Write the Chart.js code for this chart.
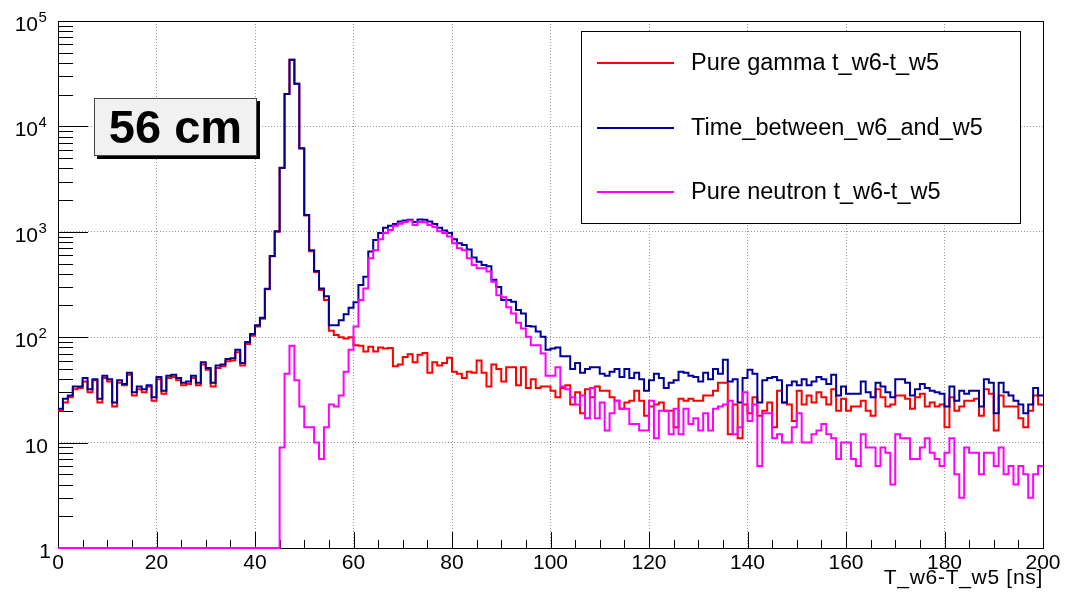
<!DOCTYPE html>
<html>
<head>
<meta charset="utf-8">
<title>T_w6-T_w5 at 56 cm</title>
<script src="https://cdn.jsdelivr.net/npm/chart.js@4.4.1/dist/chart.umd.min.js"></script>
<style>
  html, body { margin: 0; padding: 0; background: #fff; }
  #wrap { width: 1066px; height: 596px; }
</style>
</head>
<body>
<div id="wrap"><canvas id="chart" width="1066" height="596"></canvas></div>
<script>
(function () {
  'use strict';

  // --- data: 200 bins of 1 ns, counts per bin ---
  var X_MIN = 0;
  var X_MAX = 200;
  var yTicks = [1, 10, 100, 1000, 10000, 100000];
  var yTickBase = ['1', '10', '10', '10', '10', '10'];
  var yTickExp = ['', '', '2', '3', '4', '5'];

  var gamma = [
    20, 24, 27, 32, 33, 38, 30, 39, 24, 41, 38, 22, 37, 35, 44, 28, 32, 30, 34, 25,
    40, 29, 41, 42, 39, 35, 36, 41, 35, 55, 49, 34, 51, 53, 59, 60, 72, 54, 86, 103,
    126, 150, 285, 585, 1000, 4040, 20250, 42800, 25350, 6180, 1425, 655, 415, 280, 225, 115, 105, 100, 97, 100,
    84, 83, 73, 81, 73, 80, 78, 79, 53, 55, 65, 69, 58, 68, 71, 46, 58, 54, 57, 64,
    47, 45, 41, 47, 46, 60, 46, 34, 55, 50, 38, 52, 52, 35, 52, 33, 40, 33, 34, 34,
    31, 27, 33, 35, 23, 30, 19, 32, 27, 34, 31, 31, 27, 25, 21, 24, 25, 31, 25, 18,
    22, 23, 24, 20, 20, 14, 26, 25, 26, 25, 25, 28, 28, 31, 37, 37, 12, 23, 11, 23,
    19, 27, 18, 20, 24, 14, 31, 24, 23, 16, 31, 23, 28, 24, 30, 27, 23, 32, 20, 26,
    20, 22, 22, 25, 20, 18, 32, 27, 22, 23, 28, 28, 26, 21, 27, 29, 22, 24, 22, 23,
    14, 27, 20, 22, 25, 25, 26, 18, 32, 29, 13, 28, 22, 22, 22, 17, 14, 20, 28, 23
  ];

  var total = [
    21, 26, 28, 34, 34, 41, 32, 40, 26, 43, 40, 24, 39, 36, 46, 30, 34, 32, 35, 27,
    42, 31, 43, 44, 41, 37, 38, 43, 37, 58, 51, 37, 54, 55, 62, 63, 76, 57, 90, 107,
    130, 153, 288, 590, 1010, 4050, 20300, 42900, 25400, 6200, 1440, 670, 425, 290, 245, 130, 130, 145, 165, 190,
    215, 312, 375, 650, 835, 975, 1090, 1140, 1185, 1250, 1280, 1300, 1240, 1310, 1300, 1250, 1185, 1090, 1030, 975,
    850, 780, 750, 680, 570, 520, 485, 470, 350, 300, 225, 225, 217, 181, 168, 128, 126, 113, 101, 76,
    78, 80, 66, 66, 50, 57, 46, 50, 52, 52, 45, 43, 47, 50, 42, 50, 41, 46, 40, 31,
    39, 45, 41, 33, 37, 39, 47, 46, 43, 42, 38, 46, 40, 50, 45, 61, 38, 40, 24, 41,
    49, 45, 24, 39, 41, 42, 39, 24, 35, 38, 35, 40, 35, 38, 42, 40, 36, 44, 28, 34,
    29, 29, 29, 38, 30, 27, 37, 34, 30, 27, 40, 40, 37, 28, 32, 36, 33, 31, 30, 29,
    22, 34, 25, 31, 29, 31, 31, 22, 40, 37, 19, 37, 30, 28, 25, 23, 19, 23, 33, 28
  ];

  var neutron = [
    1, 1, 1, 1, 1, 1, 1, 1, 1, 1, 1, 1, 1, 1, 1, 1, 1, 1, 1, 1,
    1, 1, 1, 1, 1, 1, 1, 1, 1, 1, 1, 1, 1, 1, 1, 1, 1, 1, 1, 1,
    1, 1, 1, 1, 1, 9, 45, 83, 39, 22, 14, 14, 10, 7, 14, 23, 22, 28, 47, 76,
    126, 225, 290, 560, 670, 850, 975, 1040, 1140, 1190, 1240, 1280, 1160, 1240, 1230, 1160, 1110, 1010, 975, 900,
    780, 700, 670, 560, 485, 450, 450, 420, 335, 250, 240, 192, 168, 137, 121, 101, 84, 84, 70, 43,
    43, 52, 34, 32, 27, 23, 28, 17, 33, 17, 24, 13, 19, 25, 21, 21, 15, 15, 13, 13,
    25, 11, 20, 20, 12, 21, 12, 21, 15, 17, 13, 19, 13, 21, 22, 23, 25, 12, 14, 30,
    16, 23, 6, 19, 19, 11, 12, 10, 10, 14, 19, 10, 10, 12, 13, 15, 12, 11, 7, 10,
    10, 7, 6, 12, 9, 9, 6, 9, 8, 4, 12, 11, 11, 7, 7, 9, 11, 8, 7, 6,
    8, 11, 5, 3, 9, 8, 8, 5, 8, 8, 6, 9, 5, 6, 4, 6, 5, 3, 5, 6
  ];

  var seriesNames = ['Pure gamma t_w6-t_w5', 'Time_between_w6_and_w5', 'Pure neutron t_w6-t_w5'];
  var seriesColors = ['#ff0000', '#000099', '#ff00ff'];
  var xTitle = 'T_w6-T_w5 [ns]';
  var boxLabel = '56 cm';

  var FONT = "'Liberation Sans', Arial, Helvetica, sans-serif";
  var GRID = '#9a9a9a';

  // histogram outline: one point per bin low edge, plus the last high edge
  function toSteps(values) {
    var w = (X_MAX - X_MIN) / values.length;
    var pts = values.map(function (v, i) { return { x: X_MIN + i * w, y: v }; });
    pts.push({ x: X_MAX, y: values[values.length - 1] });
    return pts;
  }

  function histo(idx, values) {
    return {
      label: seriesNames[idx],
      data: toSteps(values),
      borderColor: seriesColors[idx],
      borderWidth: 2,
      pointRadius: 0,
      fill: false,
      stepped: true,
      tension: 0,
      clip: 4,
      borderJoinStyle: 'miter'
    };
  }

  // ROOT-like frame, inside ticks, log labels, legend box and the pave label
  var rootDecor = {
    id: 'rootDecor',
    beforeDatasetsDraw: function (chart) {
      var ctx = chart.ctx, a = chart.chartArea;
      var xs = chart.scales.x, ys = chart.scales.y;
      ctx.save();
      ctx.strokeStyle = '#000';
      ctx.lineWidth = 1;
      ctx.beginPath();
      for (var t = X_MIN; t <= X_MAX; t += 5) {
        var px = Math.round(xs.getPixelForValue(t)) + 0.5;
        ctx.moveTo(px, a.bottom);
        ctx.lineTo(px, a.bottom - (t % 20 === 0 ? 16 : 8));
      }
      for (var d = 0; d < yTicks.length - 1; d++) {
        for (var m = 1; m < 10; m++) {
          var py = Math.round(ys.getPixelForValue(m * yTicks[d])) + 0.5;
          ctx.moveTo(a.left, py);
          ctx.lineTo(a.left + (m === 1 ? 30 : 15), py);
        }
      }
      ctx.stroke();
      ctx.strokeRect(a.left + 0.5, a.top + 0.5, a.right - a.left, a.bottom - a.top);
      ctx.restore();
    },
    afterDraw: function (chart) {
      var ctx = chart.ctx, a = chart.chartArea, ys = chart.scales.y;
      ctx.save();
      ctx.fillStyle = '#000';
      ctx.textBaseline = 'alphabetic';

      // y labels 1, 10, 10^2 ...
      for (var i = 0; i < yTicks.length; i++) {
        var y = ys.getPixelForValue(yTicks[i]) + 10;
        ctx.font = '21px ' + FONT;
        if (yTickExp[i]) {
          ctx.textAlign = 'right';
          ctx.fillText(yTickBase[i], 38, y);
          ctx.font = '15px ' + FONT;
          ctx.textAlign = 'left';
          ctx.fillText(yTickExp[i], 38.5, y - 9);
        } else {
          ctx.textAlign = 'right';
          ctx.fillText(yTickBase[i], i === 0 ? 51 : 48, y);
        }
      }

      // x title
      ctx.font = '21px ' + FONT;
      ctx.letterSpacing = '0.7px';
      ctx.textAlign = 'right';
      ctx.fillText(xTitle, a.right, 584);
      ctx.letterSpacing = '0px';

      // legend
      ctx.fillStyle = '#fff';
      ctx.fillRect(582, 32, 438, 191);
      ctx.strokeStyle = '#000';
      ctx.lineWidth = 1;
      ctx.strokeRect(581.5, 31.5, 439, 192);
      var rowY = [63, 128, 192];
      for (var k = 0; k < seriesNames.length; k++) {
        ctx.strokeStyle = seriesColors[k];
        ctx.lineWidth = 2;
        ctx.beginPath();
        ctx.moveTo(597, rowY[k]);
        ctx.lineTo(674, rowY[k]);
        ctx.stroke();
        ctx.fillStyle = '#000';
        ctx.font = '23.5px ' + FONT;
        ctx.textAlign = 'left';
        ctx.fillText(seriesNames[k], 691, rowY[k] + 7);
      }

      // "56 cm" pave with shadow
      ctx.fillStyle = '#000';
      ctx.fillRect(97, 101, 163, 58);
      ctx.fillStyle = '#f1f1f1';
      ctx.fillRect(94, 98, 163, 58);
      ctx.strokeStyle = '#444';
      ctx.lineWidth = 1;
      ctx.strokeRect(94.5, 98.5, 162, 57);
      ctx.fillStyle = '#000';
      ctx.font = 'bold 47px ' + FONT;
      ctx.textAlign = 'center';
      ctx.fillText(boxLabel, 175.5, 143);
      ctx.restore();
    }
  };

  function edgeColor(c) {
    var v = c.tick ? c.tick.value : null;
    return (v === X_MIN || v === X_MAX || v === yTicks[0] || v === yTicks[yTicks.length - 1]) ? 'rgba(0,0,0,0)' : GRID;
  }

  function init() {
    var ctx = document.getElementById('chart');
    new Chart(ctx, {
      type: 'line',
      data: {
        datasets: [histo(2, neutron), histo(1, total), histo(0, gamma)]
      },
      options: {
        responsive: false,
        devicePixelRatio: 1,
        animation: false,
        events: [],
        layout: { padding: { left: 0, right: 23, top: 21, bottom: 0 } },
        plugins: { legend: { display: false }, tooltip: { enabled: false } },
        scales: {
          x: {
            type: 'linear',
            min: X_MIN,
            max: X_MAX,
            ticks: {
              stepSize: 20,
              maxRotation: 0,
              autoSkip: false,
              padding: 3,
              color: '#000',
              font: { family: FONT, size: 21 }
            },
            grid: { color: edgeColor, lineWidth: 1, drawTicks: false },
            border: { display: false, dash: [1, 2] },
            afterFit: function (s) { s.height = 48; }
          },
          y: {
            type: 'logarithmic',
            min: 1,
            max: 100000,
            ticks: { display: false },
            grid: { color: edgeColor, lineWidth: 1, drawTicks: false },
            border: { display: false, dash: [1, 2] },
            afterBuildTicks: function (s) {
              s.ticks = yTicks.map(function (v) { return { value: v }; });
            },
            afterFit: function (s) { s.width = 58; }
          }
        }
      },
      plugins: [rootDecor]
    });
  }

  if (document.readyState === 'loading') {
    document.addEventListener('DOMContentLoaded', init);
  } else {
    init();
  }
})();
</script>
</body>
</html>
